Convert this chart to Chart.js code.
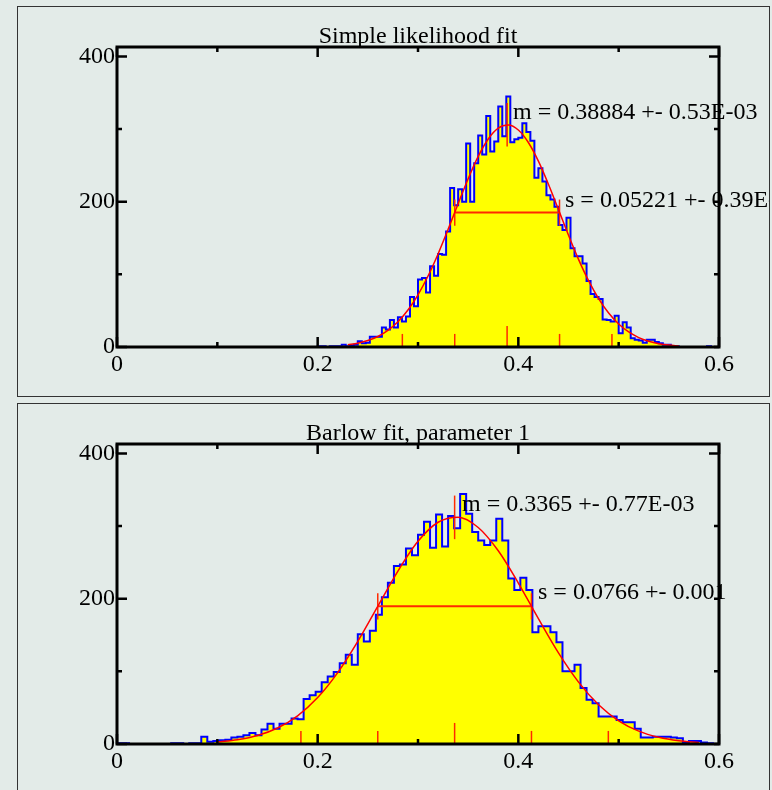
<!DOCTYPE html>
<html>
<head>
<meta charset="utf-8">
<script src="https://cdn.jsdelivr.net/npm/chart.js@4.4.1/dist/chart.umd.min.js"></script>
<style>
body { margin:0; background:#e3ebe8; width:772px; height:790px; overflow:hidden; position:relative; }
.panel { position:absolute; left:17px; width:751px; height:389px; border:1px solid #333; }
#p1 { top:6px; }
#p2 { top:403px; }
canvas { display:block; }
</style>
</head>
<body>
<div class="panel" id="p1"><canvas id="c1" width="751" height="389"></canvas></div>
<div class="panel" id="p2"><canvas id="c2" width="751" height="389"></canvas></div>
<script>
// axis ticks (shared by both panels)
var xMajorTicks = [0, 0.2, 0.4, 0.6];
var xMinorTicks = [0.1, 0.3, 0.5];
var yMajorTicks = [0, 200, 400];
var yMinorTicks = [100, 300];

// top panel: simple likelihood fit, bins of 0.004 starting at 0.2
var simpleStart = 0.2;
var simpleBinWidth = 0.004;
var simpleCounts = [1, 1, 0, 1, 1, 1, 3, 1, 2, 3,
  8, 5, 6, 14, 14, 14, 27, 24, 37, 27,
  41, 35, 42, 69, 56, 93, 95, 75, 111, 98,
  128, 127, 159, 219, 195, 217, 200, 280, 200, 253,
  291, 265, 318, 269, 283, 331, 290, 345, 282, 286,
  288, 308, 296, 284, 233, 246, 228, 209, 203, 193,
  168, 161, 178, 136, 125, 125, 115, 91, 73, 69,
  66, 38, 37, 35, 43, 19, 34, 27, 12, 10,
  9, 6, 10, 10, 7, 5, 3, 3, 1, 1,
  0, 0, 0, 0, 0, 0, 0, 1];
var simpleFitX = [0.23, 0.24, 0.25, 0.26, 0.27, 0.28, 0.29, 0.30, 0.31, 0.32, 0.33, 0.34,
  0.35, 0.36, 0.37, 0.38, 0.39, 0.40, 0.41, 0.42, 0.43, 0.44, 0.45, 0.46, 0.47, 0.48,
  0.49, 0.50, 0.51, 0.52, 0.53, 0.54, 0.55, 0.56];
var simpleFitY = [3.0, 5.3, 8.9, 14.5, 22.9, 34.8, 50.9, 71.8, 97.7, 128.1, 161.9, 197.3,
  231.7, 262.4, 286.4, 301.3, 305.5, 298.7, 281.5, 255.8, 224.0, 189.1, 153.9, 120.7, 91.3, 66.6,
  46.8, 31.7, 20.7, 13.0, 7.9, 4.6, 2.6, 1.4];
var simpleMean = 0.38884, simpleSigma = 0.05221;
var simplePeak = 306, simpleHalf = 185;
var simpleMarks = [0.2844, 0.3366, 0.3888, 0.4411, 0.4933];

// bottom panel: Barlow fit, bins of 0.006 starting at 0
var barlowStart = 0;
var barlowBinWidth = 0.006;
var barlowCounts = [1, 1, 0, 0, 0, 0, 0, 0, 0, 1,
  1, 0, 1, 1, 10, 3, 4, 5, 6, 9,
  10, 12, 15, 12, 20, 28, 21, 28, 28, 35,
  34, 62, 67, 72, 85, 93, 99, 111, 123, 109,
  151, 141, 156, 178, 202, 222, 245, 247, 269, 260,
  288, 306, 270, 316, 272, 314, 297, 344, 317, 292,
  280, 274, 280, 310, 280, 228, 212, 229, 212, 154,
  162, 162, 154, 140, 100, 100, 109, 77, 61, 56,
  38, 38, 38, 33, 30, 30, 21, 9, 9, 10,
  10, 10, 9, 8, 2, 4, 4, 2, 1];
var barlowFitX = [0.10, 0.12, 0.14, 0.16, 0.18, 0.20, 0.22, 0.24, 0.26, 0.28, 0.30, 0.32,
  0.34, 0.36, 0.38, 0.40, 0.42, 0.44, 0.46, 0.48, 0.50, 0.52, 0.54, 0.56, 0.58];
var barlowFitY = [2.7, 5.8, 11.6, 22.0, 38.8, 63.9, 98.3, 141.3, 189.8, 238.1, 279.0, 305.3,
  312.2, 298.1, 266.0, 221.6, 172.5, 125.4, 85.2, 54.0, 32.0, 17.7, 9.2, 4.4, 2.0];
var barlowMean = 0.3365, barlowSigma = 0.0766;
var barlowPeak = 312, barlowHalf = 189.5;
var barlowMarks = [0.1833, 0.2599, 0.3365, 0.4131, 0.4897];

var serif = '"Liberation Serif", "DejaVu Serif", serif';

// one point per bin edge, the value holds until the next edge
function histPoints(start, width, counts) {
  var pts = [{x: 0, y: 0}];
  for (var i = 0; i < counts.length; i++) {
    pts.push({x: start + i * width, y: counts[i]});
  }
  pts.push({x: start + counts.length * width, y: 0});
  pts.push({x: 0.6, y: 0});
  return pts;
}

function seg(x1, y1, x2, y2, width) {
  return {
    data: [{x: x1, y: y1}, {x: x2, y: y2}],
    borderColor: '#ff2a00', borderWidth: width || 1.5,
    pointRadius: 0, fill: false, order: 1
  };
}

// frame with inward ticks, ROOT style
var framePlugin = {
  id: 'frame',
  afterDatasetsDraw: function(chart) {
    var a = chart.chartArea, ctx = chart.ctx;
    var xs = chart.scales.x, ys = chart.scales.y;
    ctx.save();
    ctx.strokeStyle = '#000';
    ctx.lineWidth = 2.5;
    ctx.beginPath();
    function xt(v, len) {
      var p = xs.getPixelForValue(v);
      ctx.moveTo(p, a.bottom); ctx.lineTo(p, a.bottom - len);
      ctx.moveTo(p, a.top); ctx.lineTo(p, a.top + len);
    }
    function yt(v, lenL, lenR) {
      var p = ys.getPixelForValue(v);
      ctx.moveTo(a.left, p); ctx.lineTo(a.left + lenL, p);
      ctx.moveTo(a.right, p); ctx.lineTo(a.right - lenR, p);
    }
    xMajorTicks.forEach(function(v) { xt(v, 10); });
    xMinorTicks.forEach(function(v) { xt(v, 5); });
    yMajorTicks.forEach(function(v) { yt(v, 10, v == 400 ? 10 : 5); });
    yMinorTicks.forEach(function(v) { yt(v, 5, 5); });
    ctx.stroke();
    ctx.lineWidth = 3;
    ctx.strokeRect(a.left, a.top, a.right - a.left, a.bottom - a.top);
    ctx.restore();
  }
};

var notesPlugin = {
  id: 'notes',
  afterDraw: function(chart, args, opts) {
    var ctx = chart.ctx;
    ctx.save();
    ctx.fillStyle = '#000';
    ctx.font = '24px ' + serif;
    ctx.textBaseline = 'alphabetic';
    ctx.textAlign = 'center';
    ctx.fillText(opts.title, 400, 36);
    ctx.textAlign = 'left';
    opts.lines.forEach(function(l) { ctx.fillText(l.text, l.x, l.y); });
    ctx.restore();
  }
};

function makeChart(id, start, width, counts, fitX, fitY, mean, sigma, peak, half, marks, notes) {
  var sets = [{
    data: histPoints(start, width, counts),
    stepped: 'before', fill: 'origin',
    backgroundColor: '#ffff00', borderColor: '#0000ff', borderWidth: 2,
    pointRadius: 0, order: 10
  }, {
    data: fitX.map(function(x, i) { return {x: x, y: fitY[i]}; }),
    borderColor: '#ff0000', borderWidth: 1.5, cubicInterpolationMode: 'monotone',
    pointRadius: 0, fill: false, order: 1
  }];
  sets.push(seg(mean - sigma, half, mean + sigma, half, 2));
  sets.push(seg(mean, peak - 30, mean, peak + 30));
  sets.push(seg(mean - sigma, half - 18, mean - sigma, half + 18));
  sets.push(seg(mean + sigma, half - 18, mean + sigma, half + 18));
  marks.forEach(function(m, i) {
    sets.push(seg(m, 0, m, i == 2 ? 29 : 18));
  });

  return new Chart(document.getElementById(id), {
    type: 'line',
    data: {datasets: sets},
    options: {
      responsive: false,
      animation: false,
      devicePixelRatio: 1,
      layout: {padding: {top: 40, right: 50, left: 0, bottom: 0}},
      plugins: {legend: {display: false}, tooltip: {enabled: false}, notes: notes},
      scales: {
        x: {
          type: 'linear', min: 0, max: 0.6,
          grid: {display: false, drawTicks: false}, border: {display: false},
          afterBuildTicks: function(s) { s.ticks = xMajorTicks.map(function(v) { return {value: v}; }); },
          afterFit: function(s) { s.height = 49; },
          ticks: {font: {family: serif, size: 24}, color: '#000', padding: 3, maxRotation: 0, autoSkip: false,
            callback: function(v) { return String(v); }}
        },
        y: {
          type: 'linear', min: 0, max: 413,
          grid: {display: false, drawTicks: false}, border: {display: false},
          afterBuildTicks: function(s) { s.ticks = yMajorTicks.map(function(v) { return {value: v}; }); },
          afterFit: function(s) { s.width = 99; },
          ticks: {font: {family: serif, size: 24}, color: '#000', padding: 2,
            callback: function(v) { return String(v); }}
        }
      }
    },
    plugins: [framePlugin, notesPlugin]
  });
}

makeChart('c1', simpleStart, simpleBinWidth, simpleCounts, simpleFitX, simpleFitY,
  simpleMean, simpleSigma, simplePeak, simpleHalf, simpleMarks, {
    title: 'Simple likelihood fit',
    lines: [{text: 'm = 0.38884 +- 0.53E-03', x: 495, y: 112},
            {text: 's = 0.05221 +- 0.39E-03', x: 547, y: 200}]
  });

makeChart('c2', barlowStart, barlowBinWidth, barlowCounts, barlowFitX, barlowFitY,
  barlowMean, barlowSigma, barlowPeak, barlowHalf, barlowMarks, {
    title: 'Barlow fit, parameter 1',
    lines: [{text: 'm = 0.3365 +- 0.77E-03', x: 444, y: 107},
            {text: 's = 0.0766 +- 0.001', x: 520, y: 195}]
  });
</script>
</body>
</html>
